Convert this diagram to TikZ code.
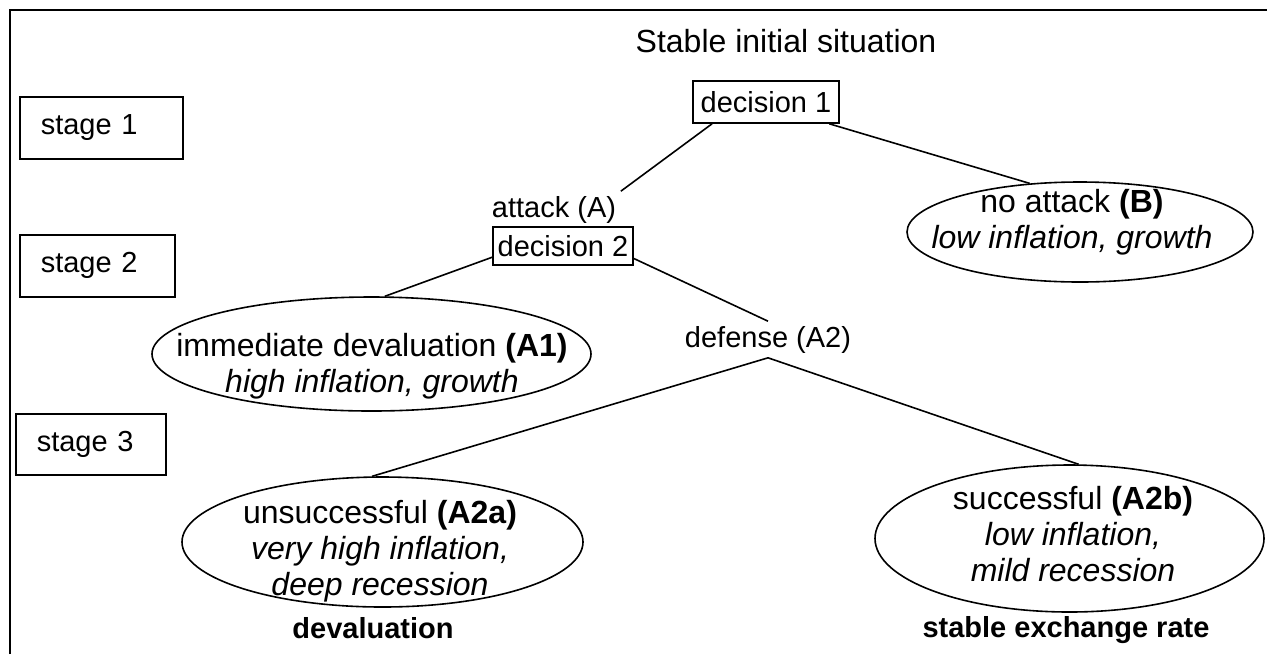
\documentclass[tikz,border=0pt]{standalone}
\usepackage{fontspec}
\setmainfont{Liberation Sans}
\usetikzlibrary{shapes.geometric}

\tikzset{
	lbl/.style={font=\fontsize{14.5pt}{17pt}\selectfont, inner sep=2pt},
	stagebox/.style={lbl, draw, align=left, inner xsep=10.5pt, anchor=north west},
	decbox/.style={lbl, draw, inner xsep=2pt},
	oval/.style={draw, ellipse, inner sep=0pt},
	outcome/.style={font=\fontsize{16pt}{18pt}\selectfont, align=center, inner sep=0pt, anchor=north},
}

\begin{document}
\begin{tikzpicture}[x=0.5pt, y=-0.5pt, line width=0.8pt]
		\useasboundingbox (0,0) rectangle (1267,654);
		\draw[line width=1.1pt] (10,654) -- (10,10) -- (1267,10);% frame
		
		\node[stagebox, text width=60.5pt, minimum height=31pt] (s1) at (19,96) {stage 1};
		\node[stagebox, text width=56.5pt, minimum height=31pt] (s2) at (19,234) {stage 2};
		\node[stagebox, text width=54pt, minimum height=30.5pt] (s3) at (15,413) {stage 3};
		
		\node[lbl, anchor=base, font=\fontsize{16pt}{18pt}\selectfont] (top) at (786,52) {Stable initial situation};
		\node[decbox, minimum width=73pt, minimum height=21pt] (d1) at (766,102) {decision 1};
		\node[lbl, anchor=base] (atk) at (554,217) {attack (A)};
		\node[decbox, minimum width=70pt, minimum height=19pt] (d2) at (563,246) {decision 2};
		\node[lbl, anchor=base] (dfs) at (768,347) {defense (A2)};
		
		\node[oval, minimum width=173pt, minimum height=50pt] (nb) at (1080,232) {};% B
		\node[oval, minimum width=219.5pt, minimum height=57pt] (na1) at (371.5,354) {};% A1
		\node[oval, minimum width=200.5pt, minimum height=65pt] (na2a) at (382.5,542) {};% A2a
		\node[oval, minimum width=194.5pt, minimum height=73.5pt] (na2b) at (1069.5,538.5) {};% A2b
		
		\node[outcome] (tb) at (1072,189) {no attack \textbf{(B)}\\\textit{low inflation, growth}};
		\node[outcome] (ta1) at (372,333) {immediate devaluation \textbf{(A1)}\\\textit{high inflation, growth}};
		\node[outcome] (ta2a) at (380,499) {unsuccessful \textbf{(A2a)}\\\textit{very high inflation,}\\\textit{deep recession}};
		\node[outcome] (ta2b) at (1073,485) {successful \textbf{(A2b)}\\\textit{low inflation,}\\\textit{mild recession}};
		
		\node[lbl, anchor=base, font=\fontsize{14.5pt}{17pt}\selectfont\bfseries] (dev) at (373,638) {devaluation};
		\node[lbl, anchor=base, font=\fontsize{14.5pt}{17pt}\selectfont\bfseries] (ser) at (1066,637) {stable exchange rate};
		
		\draw (d1.202) -- (atk.north east);
		\draw (d1.341) -- (nb.136);
		\draw (d2.189) -- (na1.77);
		\draw (d2.350) -- (dfs.north);
		\draw (dfs.south) -- (na2a.99);
		\draw (dfs.south) -- (na2b.83);
\end{tikzpicture}
\end{document}
